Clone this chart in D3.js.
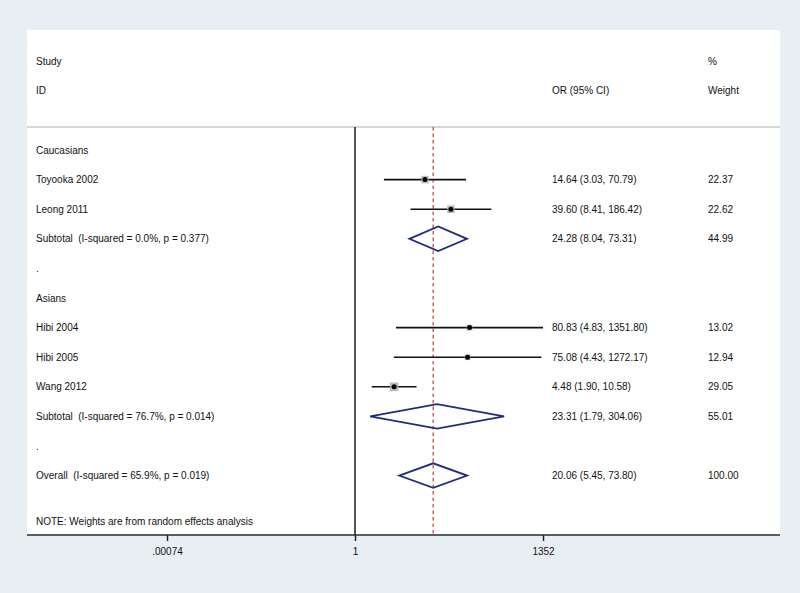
<!DOCTYPE html>
<html><head><meta charset="utf-8">
<script src="https://cdn.jsdelivr.net/npm/d3@7"></script>
<style>
body{margin:0;padding:0;background:#e7eff3;}
svg{display:block;}
text{font-family:"Liberation Sans",Arial,sans-serif;font-size:10px;fill:#111;white-space:pre;}
</style></head>
<body>
<svg id="chart" width="800" height="593"></svg>
<script>
// ---- data ----
const studyNames = ["Toyooka 2002", "Leong 2011", "Hibi 2004", "Hibi 2005", "Wang 2012"];
const studyGroup = ["Caucasians", "Caucasians", "Asians", "Asians", "Asians"];
const studyOR = [14.64, 39.60, 80.83, 75.08, 4.48];
const studyLo = [3.03, 8.41, 4.83, 4.43, 1.90];
const studyHi = [70.79, 186.42, 1351.80, 1272.17, 10.58];
const studyWeight = [22.37, 22.62, 13.02, 12.94, 29.05];

const groups = ["Caucasians", "Asians"];
const subLabels = ["Subtotal  (I-squared = 0.0%, p = 0.377)", "Subtotal  (I-squared = 76.7%, p = 0.014)"];
const subOR = [24.28, 23.31];
const subLo = [8.04, 1.79];
const subHi = [73.31, 304.06];
const subWeight = [44.99, 55.01];

const overallLabel = "Overall  (I-squared = 65.9%, p = 0.019)";
const overallOR = 20.06, overallLo = 5.45, overallHi = 73.80, overallWeight = 100.00;

const tickValues = [1/1352, 1, 1352];
const tickLabels = [".00074", "1", "1352"];
const noteText = "NOTE: Weights are from random effects analysis";

// ---- build rows ----
const rows = [];
groups.forEach((g, gi) => {
  rows.push({type: "header", label: g});
  studyNames.forEach((s, i) => {
    if (studyGroup[i] === g) rows.push({type: "study", label: s, or: studyOR[i], lo: studyLo[i], hi: studyHi[i], w: studyWeight[i]});
  });
  rows.push({type: "sub", label: subLabels[gi], or: subOR[gi], lo: subLo[gi], hi: subHi[gi], w: subWeight[gi]});
  rows.push({type: "blank", label: "."});
});
rows.push({type: "sub", label: overallLabel, or: overallOR, lo: overallLo, hi: overallHi, w: overallWeight});

const fmt = d3.format(".2f");
const svg = d3.select("#chart");

// panel
const panel = {x0: 27, x1: 780, y0: 30, y1: 535};
svg.append("rect").attr("x", 0).attr("y", 0).attr("width", 800).attr("height", 593).attr("fill", "#e7eff3");
svg.append("rect").attr("x", panel.x0).attr("y", panel.y0).attr("width", panel.x1 - panel.x0).attr("height", panel.y1 - panel.y0).attr("fill", "#ffffff");

const x = d3.scaleLog().domain([1/1352, 1352]).range([167, 543]);
const y = d3.scaleLinear().domain([0, rows.length - 1]).range([150, 475.6]);
const topY = 127;

// header separator
svg.append("line").attr("x1", panel.x0).attr("x2", panel.x1).attr("y1", topY).attr("y2", topY)
  .attr("stroke", "#b0b0b0").attr("stroke-width", 1.2);

// header texts
const colStudy = 36, colOR = 552, colW = 708;
svg.append("text").attr("x", colStudy).attr("y", 61).attr("dy", "0.35em").text("Study");
svg.append("text").attr("x", colStudy).attr("y", 90).attr("dy", "0.35em").text("ID");
svg.append("text").attr("x", colOR).attr("y", 90).attr("dy", "0.35em").text("OR (95% CI)");
svg.append("text").attr("x", colW).attr("y", 61).attr("dy", "0.35em").text("%");
svg.append("text").attr("x", colW).attr("y", 90).attr("dy", "0.35em").text("Weight");

// null line at 1
svg.append("line").attr("x1", x(1)).attr("x2", x(1)).attr("y1", topY).attr("y2", panel.y1)
  .attr("stroke", "#2a2a2a").attr("stroke-width", 1.6);

// overall dashed line
svg.append("line").attr("x1", x(overallOR)).attr("x2", x(overallOR)).attr("y1", topY).attr("y2", panel.y1)
  .attr("stroke", "#c0504d").attr("stroke-width", 1.3).attr("stroke-dasharray", "3.5,3");

// rows
rows.forEach((r, i) => {
  const yy = y(i);
  svg.append("text").attr("x", colStudy).attr("y", yy).attr("dy", "0.35em").text(r.label);
  if (r.type === "study") {
    svg.append("line").attr("x1", x(r.lo)).attr("x2", x(r.hi)).attr("y1", yy).attr("y2", yy)
      .attr("stroke", "#111").attr("stroke-width", 1.6);
    const side = 1.6 * Math.sqrt(r.w);
    svg.append("rect").attr("x", x(r.or) - side/2).attr("y", yy - side/2).attr("width", side).attr("height", side)
      .attr("fill", "#b0b0b0").attr("opacity", 0.85);
    svg.append("circle").attr("cx", x(r.or)).attr("cy", yy).attr("r", 2.5).attr("fill", "#000");
  }
  if (r.type === "sub") {
    const h = 12.3;
    const pts = [[x(r.lo), yy], [x(r.or), yy - h], [x(r.hi), yy], [x(r.or), yy + h]];
    svg.append("polygon").attr("points", pts.map(p => p.join(",")).join(" "))
      .attr("fill", "none").attr("stroke", "#1f2d7b").attr("stroke-width", 1.8).attr("stroke-linejoin", "miter");
  }
  if (r.type === "study" || r.type === "sub") {
    svg.append("text").attr("x", colOR).attr("y", yy).attr("dy", "0.35em")
      .text(`${fmt(r.or)} (${fmt(r.lo)}, ${fmt(r.hi)})`);
    svg.append("text").attr("x", colW).attr("y", yy).attr("dy", "0.35em").text(fmt(r.w));
  }
});

// note
svg.append("text").attr("x", colStudy).attr("y", 521).attr("dy", "0.35em").text(noteText);

// axis
const axis = d3.axisBottom(x).tickValues(tickValues).tickFormat((d, i) => tickLabels[i]).tickSize(6).tickSizeOuter(0);
const ag = svg.append("g").attr("transform", `translate(0,${panel.y1})`).call(axis);
ag.select(".domain").remove();
ag.selectAll(".tick line").attr("stroke", "#222").attr("stroke-width", 1.5);
ag.selectAll(".tick text").attr("y", 13).attr("font-size", 10).attr("font-family", "Liberation Sans, Arial, sans-serif").attr("fill", "#111");
svg.append("line").attr("x1", panel.x0).attr("x2", panel.x1).attr("y1", panel.y1).attr("y2", panel.y1)
  .attr("stroke", "#2a2a2a").attr("stroke-width", 1.6);
</script>
</body></html>
